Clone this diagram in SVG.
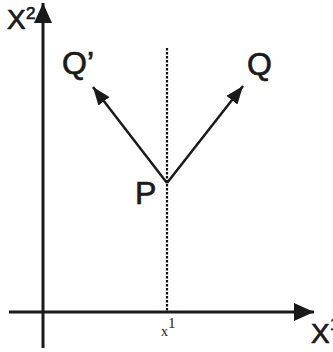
<svg xmlns="http://www.w3.org/2000/svg" width="333" height="352" viewBox="0 0 333 352">
<style>
.axis{stroke:#1a1a1a;stroke-width:3;fill:none}
.vec{stroke:#1a1a1a;stroke-width:2.5;fill:none}
.dot{stroke:#111;stroke-width:2.2;stroke-dasharray:2.5 1.5;fill:none}
.lbl{font-family:"Liberation Sans",Arial,sans-serif;fill:#1a1a1a;stroke:#1a1a1a;stroke-width:0.7}
.ser{font-family:"Liberation Serif","Times New Roman",serif;fill:#1a1a1a}
</style>
<defs>
<marker id="ah" viewBox="0 0 20 18" refX="20" refY="9" markerWidth="20" markerHeight="18" markerUnits="userSpaceOnUse" orient="auto">
<path d="M0,0 L20,9 L0,18 Z" fill="#1a1a1a"/>
</marker>
<marker id="vh" viewBox="0 0 18 14" refX="18" refY="7" markerWidth="18" markerHeight="14" markerUnits="userSpaceOnUse" orient="auto">
<path d="M0,0 L18,7 L0,14 Z" fill="#1a1a1a"/>
</marker>
</defs>
<rect width="333" height="352" fill="#fff"/>
<g id="connectors">
<line class="dot" x1="167" y1="48" x2="167" y2="312"/>
<line class="axis" x1="43" y1="348" x2="43" y2="3" marker-end="url(#ah)"/>
<line class="axis" x1="9" y1="312" x2="314" y2="312" marker-end="url(#ah)"/>
<line class="vec" x1="167" y1="183" x2="93" y2="87" marker-end="url(#vh)"/>
<line class="vec" x1="167" y1="183" x2="243" y2="86" marker-end="url(#vh)"/>
</g>
<g id="x2-label">
<text class="lbl" x="7" y="29" font-size="28">X</text>
<text class="lbl" x="26" y="19" font-size="17">2</text>
</g>
<g id="x1-label">
<text class="lbl" x="311" y="343" font-size="28">X</text>
<text class="lbl" x="330" y="330" font-size="17">1</text>
</g>
<g id="Qprime">
<text class="lbl" x="62" y="74" font-size="32">Q’</text>
</g>
<g id="Q">
<text class="lbl" x="247" y="75" font-size="32">Q</text>
</g>
<g id="P">
<text class="lbl" x="135" y="204" font-size="32">P</text>
</g>
<g id="tick-label">
<text class="ser" x="161" y="336" font-size="14">x</text>
<text class="ser" x="168" y="328" font-size="15">1</text>
</g>
</svg>
